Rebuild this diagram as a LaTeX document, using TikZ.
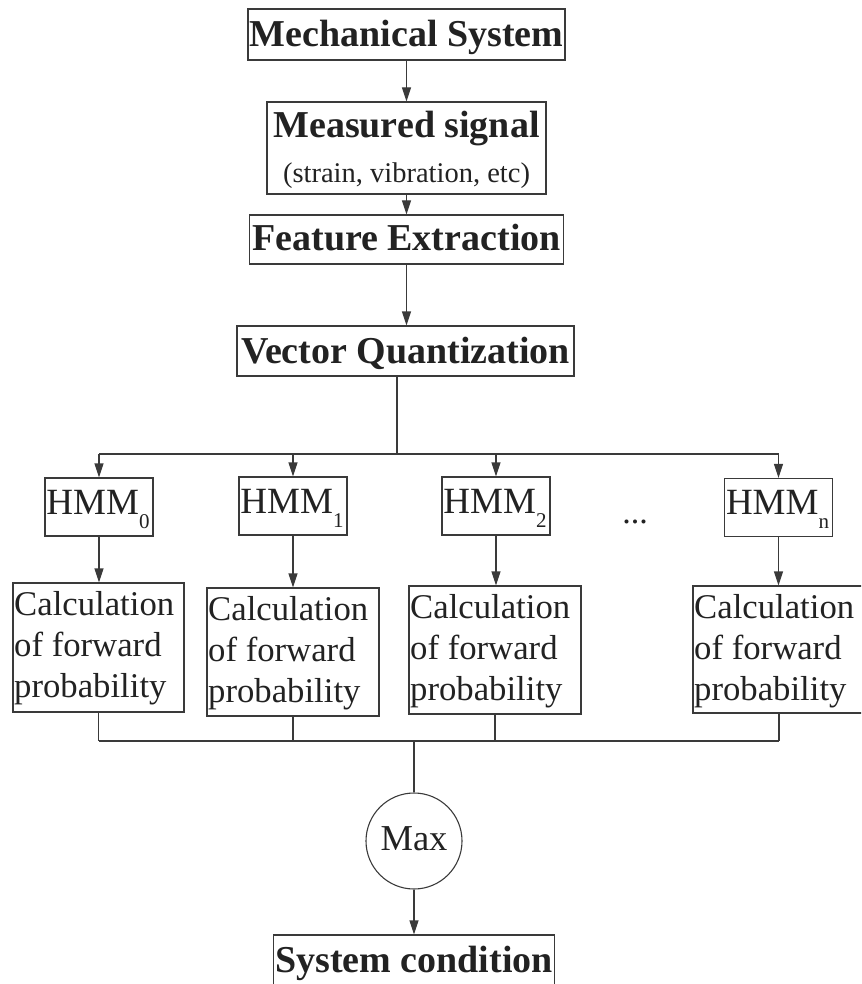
\documentclass[tikz,border=0pt]{standalone}
\usepackage{fontspec}
\setmainfont{Liberation Serif}
\usetikzlibrary{arrows.meta}
\definecolor{linec}{HTML}{3A3A3A}
\definecolor{textc}{HTML}{222222}
\tikzset{
  box/.style={draw=linec, line width=1.1pt, rectangle, inner sep=0pt},
  ln/.style={draw=linec, line width=1.1pt},
  arr/.style={draw=linec, line width=1.1pt, -{Triangle[length=14pt,width=9pt]}},
  bigtxt/.style={font=\fontsize{38}{40}\selectfont\bfseries, text=textc, inner sep=0pt, anchor=base},
  smalltxt/.style={font=\fontsize{28.5}{30}\selectfont, text=textc, inner sep=0pt, anchor=base},
  hmmtxt/.style={font=\fontsize{37}{37}\selectfont, text=textc, inner sep=0pt, anchor=base},
  calctxt/.style={font=\fontsize{34.7}{36}\selectfont, text=textc, inner sep=0pt, anchor=base west},
  hmmbox/.style={box, minimum width=108pt, minimum height=58pt},
  calcbox/.style={box, minimum width=172pt, minimum height=128pt},
}
\newcommand{\hsub}[1]{\raisebox{-14pt}{\fontsize{21}{21}\selectfont #1}}
\begin{document}
\begin{tikzpicture}[x=1pt,y=-1pt]
\useasboundingbox (0,0) rectangle (861,984);
\clip (0,0) rectangle (861,984);
% top chain
\node[box, minimum width=317pt, minimum height=51pt] (mech) at (406.5,34.5) {};
\node[bigtxt] (mechT) at (406.5,47) {Mechanical System};
\node[box, minimum width=279pt, minimum height=92pt] (meas) at (406.5,148) {};
\node[bigtxt] (measT) at (406.5,138) {Measured signal};
\node[smalltxt] (measS) at (406.5,183) {(strain, vibration, etc)};
\node[box, minimum width=314pt, minimum height=49pt] (feat) at (406.5,239.5) {};
\node[bigtxt] (featT) at (406.5,251) {Feature Extraction};
\node[box, minimum width=337pt, minimum height=50pt] (vq) at (405.5,351) {};
\node[bigtxt] (vqT) at (405.5,363) {Vector Quantization};
\draw[arr] (mech) -- (meas);
\draw[arr] (meas) -- (feat);
\draw[arr] (feat.south) -- (feat.south |- vq.north);
% top bus
\coordinate (tj) at (397,454);
\coordinate (t0) at (99,454);
\coordinate (t1) at (293,454);
\coordinate (t2) at (496,454);
\coordinate (tn) at (778.5,454);
\draw[ln] (vq.south -| tj) -- (tj);
\draw[ln] (t0) -- (tn);
% HMM boxes
\node[hmmbox] (h0) at (99,507) {};
\node[hmmbox] (h1) at (293,506) {};
\node[hmmbox] (h2) at (496,506) {};
\node[hmmbox] (hn) at (778.5,507.5) {};
\node[hmmtxt] (h0T) at (98,514) {HMM\hsub{0}};
\node[hmmtxt] (h1T) at (292,513) {HMM\hsub{1}};
\node[hmmtxt] (h2T) at (495,513) {HMM\hsub{2}};
\node[hmmtxt] (hnT) at (777.5,514) {HMM\hsub{n}};
\node[font=\fontsize{34}{34}\selectfont, text=textc, inner sep=0pt, anchor=base] (dots) at (635,523) {...};
\draw[arr] (t0) -- (h0.north);
\draw[arr] (t1) -- (h1.north);
\draw[arr] (t2) -- (h2.north);
\draw[arr] (tn) -- (hn.north);
% Calc boxes
\node[calcbox, minimum width=171pt, minimum height=129pt] (c0) at (98.5,647.5) {};
\node[calcbox, minimum height=128pt] (c1) at (293,652) {};
\node[calcbox, minimum height=128pt] (c2) at (495,650) {};
\node[calcbox, minimum width=172pt, minimum height=127pt] (cn) at (779,649.5) {};
\foreach \n/\x/\y in {c0/14/615, c1/208/620, c2/410/618, cn/694/618}{
  \node[calctxt] (\n a) at (\x,\y) {Calculation};
  \node[calctxt] (\n b) at (\x,\y+41) {of forward};
  \node[calctxt] (\n c) at (\x,\y+82) {probability};
}
\draw[arr] (h0) -- (c0.north -| h0);
\draw[arr] (h1) -- (c1.north -| h1);
\draw[arr] (h2) -- (c2.north -| h2);
\draw[arr] (hn) -- (cn.north -| hn);
% bottom bus
\coordinate (b0) at (98.5,741);
\coordinate (b1) at (293,741);
\coordinate (b2) at (495,741);
\coordinate (bn) at (779,741);
\coordinate (bm) at (414,741);
\draw[ln] (c0.south) -- (b0);
\draw[ln] (c1.south) -- (b1);
\draw[ln] (c2.south) -- (b2);
\draw[ln] (cn.south) -- (bn);
\draw[ln] (b0) -- (bn);
% Max
\node[draw=linec, line width=1.1pt, circle, minimum size=96pt, inner sep=0pt] (max) at (414,841) {};
\node[font=\fontsize{36.5}{37}\selectfont, text=textc, inner sep=0pt, anchor=base] (maxT) at (414,850) {Max};
\draw[ln] (bm) -- (max);
% System condition
\node[box, minimum width=281pt, minimum height=60pt] (sys) at (414,965) {};
\node[bigtxt] (sysT) at (414,972) {System condition};
\draw[arr] (max) -- (sys);
\end{tikzpicture}
\end{document}
